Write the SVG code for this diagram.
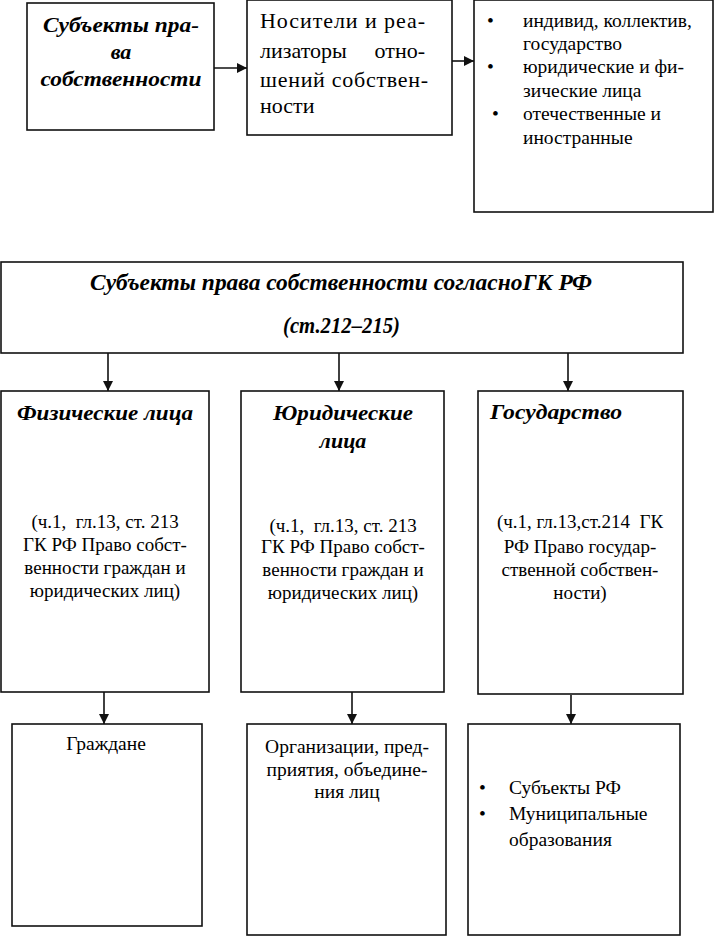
<svg xmlns="http://www.w3.org/2000/svg" width="714" height="936" viewBox="0 0 714 936">
<style>
.box{fill:#fff;stroke:#111;stroke-width:1.6}
.con{stroke:#111;stroke-width:1.6;fill:none}
.h{font-family:"Times New Roman","Liberation Serif",Tinos,"DejaVu Serif","Noto Serif",serif;font-weight:bold;font-style:italic;fill:#000}
.t{font-family:"Times New Roman","Liberation Serif",Tinos,"DejaVu Serif","Noto Serif",serif;fill:#000}
.c{text-anchor:middle}
</style>
<defs>
<marker id="ah" markerUnits="userSpaceOnUse" markerWidth="11" markerHeight="11" refX="10" refY="5" orient="auto">
<path d="M0,0 L10,5 L0,10 z" fill="#111"/>
</marker>
</defs>
<rect width="714" height="936" fill="#fff"/>

<g id="connectors">
<line class="con" x1="214" y1="68" x2="247" y2="68" marker-end="url(#ah)"/>
<line class="con" x1="452" y1="61" x2="474" y2="61" marker-end="url(#ah)"/>
<line class="con" x1="108" y1="353" x2="108" y2="391" marker-end="url(#ah)"/>
<line class="con" x1="339" y1="353" x2="339" y2="391" marker-end="url(#ah)"/>
<line class="con" x1="568" y1="353" x2="568" y2="391" marker-end="url(#ah)"/>
<line class="con" x1="104" y1="692" x2="104" y2="724" marker-end="url(#ah)"/>
<line class="con" x1="352" y1="692" x2="352" y2="724" marker-end="url(#ah)"/>
<line class="con" x1="571" y1="695" x2="571" y2="724" marker-end="url(#ah)"/>
</g>

<g id="subjects">
<rect class="box" x="27" y="3" width="187" height="127"/>
<text class="h c" x="121" y="32" font-size="22" textLength="156" lengthAdjust="spacingAndGlyphs">Субъекты пра-</text>
<text class="h c" x="121" y="59" font-size="22">ва</text>
<text class="h c" x="121" y="86" font-size="22" textLength="161" lengthAdjust="spacingAndGlyphs">собственности</text>
</g>

<g id="carriers">
<rect class="box" x="247" y="0" width="205" height="135"/>
<text class="t" x="260" y="28" font-size="22" textLength="165" lengthAdjust="spacing">Носители и реа-</text>
<text class="t" x="260" y="58" font-size="22">лизаторы</text>
<text class="t" x="425" y="58" font-size="22" text-anchor="end">отно-</text>
<text class="t" x="260" y="87" font-size="22" textLength="168" lengthAdjust="spacing">шений собствен-</text>
<text class="t" x="260" y="113" font-size="22">ности</text>
</g>

<g id="kinds">
<rect class="box" x="474" y="0" width="239" height="212"/>
<g class="t" font-size="19.5">
<text x="487" y="27">•</text>
<text x="523" y="27">индивид, коллектив,</text>
<text x="523" y="50">государство</text>
<text x="487" y="73">•</text>
<text x="523" y="73">юридические и фи-</text>
<text x="523" y="97">зические лица</text>
<text x="492" y="120">•</text>
<text x="523" y="120">отечественные и</text>
<text x="523" y="144">иностранные</text>
</g>
</g>

<g id="gk">
<rect class="box" x="1" y="262" width="682" height="91"/>
<text class="h c" x="341" y="290" font-size="23" textLength="502" lengthAdjust="spacingAndGlyphs">Субъекты права собственности согласноГК РФ</text>
<text class="h" x="283" y="333" font-size="23" textLength="117" lengthAdjust="spacingAndGlyphs">(ст.212–215)</text>
</g>

<g id="physical">
<rect class="box" x="1" y="391" width="208" height="301"/>
<text class="h" x="17" y="420" font-size="22" textLength="176" lengthAdjust="spacingAndGlyphs">Физические лица</text>
<g class="t c" font-size="19">
<text x="105" y="528" xml:space="preserve">(ч.1,  гл.13, ст. 213</text>
<text x="105" y="551">ГК РФ Право собст-</text>
<text x="105" y="574">венности граждан и</text>
<text x="105" y="597">юридических лиц)</text>
</g>
</g>

<g id="legal">
<rect class="box" x="241" y="391" width="203" height="301"/>
<text class="h c" x="343" y="420" font-size="22" textLength="140" lengthAdjust="spacingAndGlyphs">Юридические</text>
<text class="h c" x="343" y="448" font-size="22">лица</text>
<g class="t c" font-size="19">
<text x="343" y="532" xml:space="preserve">(ч.1,  гл.13, ст. 213</text>
<text x="343" y="553">ГК РФ Право собст-</text>
<text x="343" y="576">венности граждан и</text>
<text x="343" y="599">юридических лиц)</text>
</g>
</g>

<g id="state">
<rect class="box" x="478" y="391" width="205" height="303"/>
<text class="h" x="490" y="419" font-size="22" textLength="132" lengthAdjust="spacingAndGlyphs">Государство</text>
<g class="t c" font-size="19">
<text x="580" y="528" xml:space="preserve">(ч.1, гл.13,ст.214  ГК</text>
<text x="580" y="553">РФ Право государ-</text>
<text x="580" y="576">ственной собствен-</text>
<text x="580" y="599">ности)</text>
</g>
</g>

<g id="citizens">
<rect class="box" x="12" y="724" width="190" height="202"/>
<text class="t c" x="106" y="750" font-size="19.5">Граждане</text>
</g>

<g id="organizations">
<rect class="box" x="247" y="724" width="199" height="211"/>
<g class="t c" font-size="19.5">
<text x="347" y="753">Организации, пред-</text>
<text x="347" y="776">приятия, объедине-</text>
<text x="347" y="798">ния лиц</text>
</g>
</g>

<g id="municipal">
<rect class="box" x="468" y="724" width="212" height="211"/>
<g class="t" font-size="19.5">
<text x="479" y="794">•</text>
<text x="509" y="794">Субъекты РФ</text>
<text x="479" y="820">•</text>
<text x="509" y="820">Муниципальные</text>
<text x="509" y="846">образования</text>
</g>
</g>
</svg>
